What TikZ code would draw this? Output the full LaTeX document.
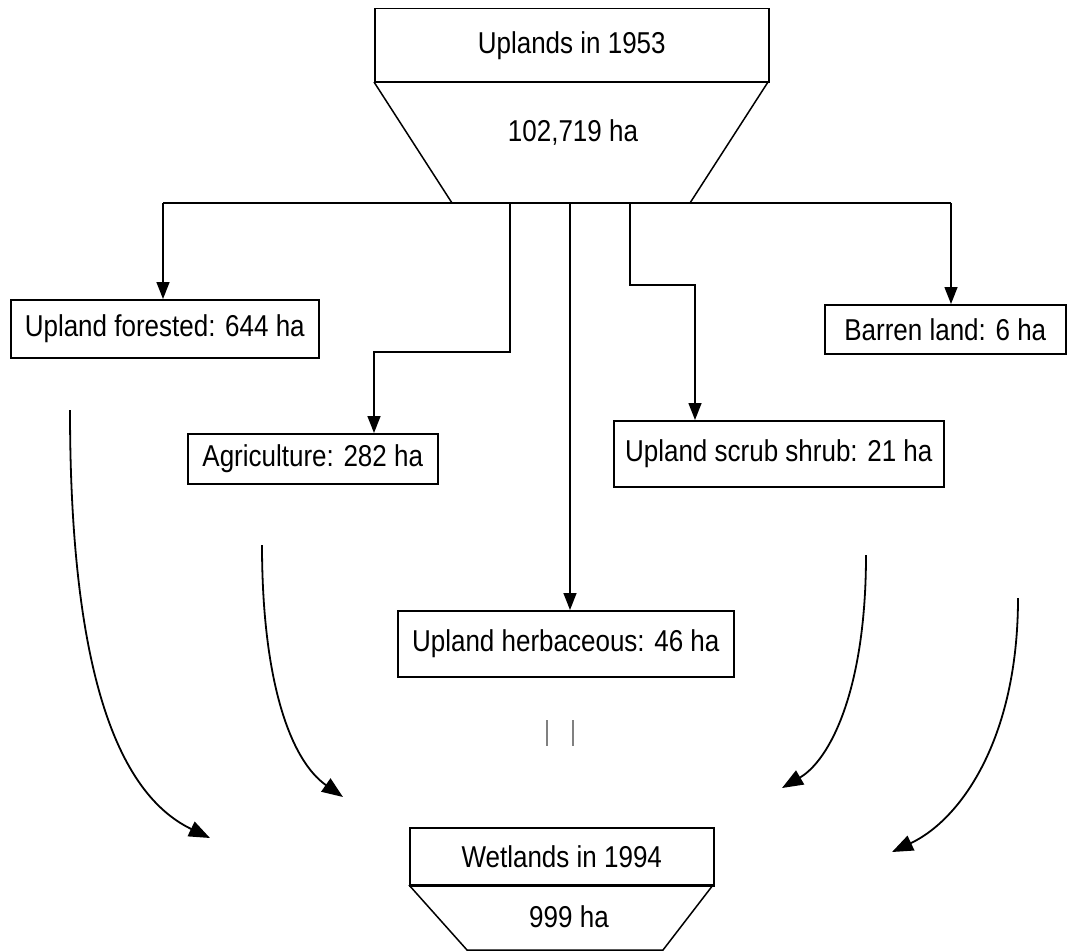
\documentclass[tikz,border=0pt]{standalone}
\usepackage{graphicx}
\usepackage{fontspec}
\setmainfont{Liberation Sans}
\usetikzlibrary{arrows.meta}
\newcommand\tallt[1]{\scalebox{1}[1.16]{#1}}
\begin{document}
\begin{tikzpicture}[x=1pt,y=-1pt,
  lbl/.style={draw,line width=1.5pt,font=\fontsize{26}{30}\selectfont,inner sep=0pt,anchor=north west},
  txt/.style={font=\fontsize{26}{30}\selectfont,inner sep=0pt},
  arr/.style={line width=1.5pt,-{Triangle[length=17pt,width=13pt]}},
  curv/.style={line width=1.8pt,-{Triangle[length=21pt,width=16pt]}},
  ln/.style={line width=1.5pt},
  sep/.style={line width=2.8pt}]
\useasboundingbox (0,0) rectangle (1067,952);

% top funnel
\node[lbl,minimum width=394pt,minimum height=74pt] (up) at (374,8) {\tallt{Uplands in 1953}};
\draw[ln] (374,82) -- (452,203);
\draw[ln] (768,82) -- (690,203);
\draw[sep] (374,82) -- (768,82);
\node[txt] (upval) at (573,133) {\tallt{102,719 ha}};

% boxes
\node[lbl,minimum width=308pt,minimum height=58pt] (forest) at (10,299) {\tallt{Upland forested: 644 ha}};
\node[lbl,minimum width=250pt,minimum height=50pt] (agri) at (187,433) {\tallt{Agriculture: 282 ha}};
\node[lbl,minimum width=336pt,minimum height=66pt] (herb) at (397,610) {\tallt{Upland herbaceous: 46 ha}};
\node[lbl,minimum width=330pt,minimum height=66pt] (scrub) at (613,420) {\tallt{Upland scrub shrub: 21 ha}};
\node[lbl,minimum width=241pt,minimum height=49pt] (barren) at (824,304) {\tallt{Barren land: 6 ha}};

% bus
\coordinate (bl) at (163,203);
\coordinate (br) at (951,203);
\draw[ln] (bl) -- (br);
\coordinate (a1) at (510,203);
\coordinate (a3) at (374,352);
\coordinate (h1) at (570,203);
\coordinate (s1) at (630,203);
\coordinate (s3) at (695,285);

\draw[arr] (bl) -- (bl |- forest.north);
\draw[arr] (a1) |- (a3) -- (a3 |- agri.north);
\draw[arr] (h1) -- (h1 |- herb.north);
\draw[arr] (s1) |- (s3) -- (s3 |- scrub.north);
\draw[arr] (br) -- (br |- barren.north);

% bottom funnel
\node[lbl,minimum width=304pt,minimum height=58pt] (wet) at (409,827) {\tallt{Wetlands in 1994}};
\draw[ln] (409,885) -- (467,950) -- (663,950) -- (713,885);
\draw[sep] (409,885) -- (713,885);
\node[txt] (wetval) at (569,917) {\tallt{999 ha}};

% curved arrows
\coordinate (c1) at (70,410);
\coordinate (e1) at (210,838);
\coordinate (c2) at (262,545);
\coordinate (e2) at (343,797);
\coordinate (c3) at (866,555);
\coordinate (e3) at (782,788);
\coordinate (c4) at (1018,598);
\coordinate (e4) at (892,852);
\draw[curv] (c1) .. controls (70,650) and (110,790) .. (e1);
\draw[curv] (c2) .. controls (262,680) and (290,760) .. (e2);
\draw[curv] (c3) .. controls (866,690) and (830,760) .. (e3);
\draw[curv] (c4) .. controls (1018,740) and (960,820) .. (e4);

% break mark
\coordinate (m1) at (547,720);
\coordinate (m2) at (573,720);
\draw[gray,line width=1.5pt] (m1) -- ++(0,26);
\draw[gray,line width=1.5pt] (m2) -- ++(0,26);
\end{tikzpicture}
\end{document}
